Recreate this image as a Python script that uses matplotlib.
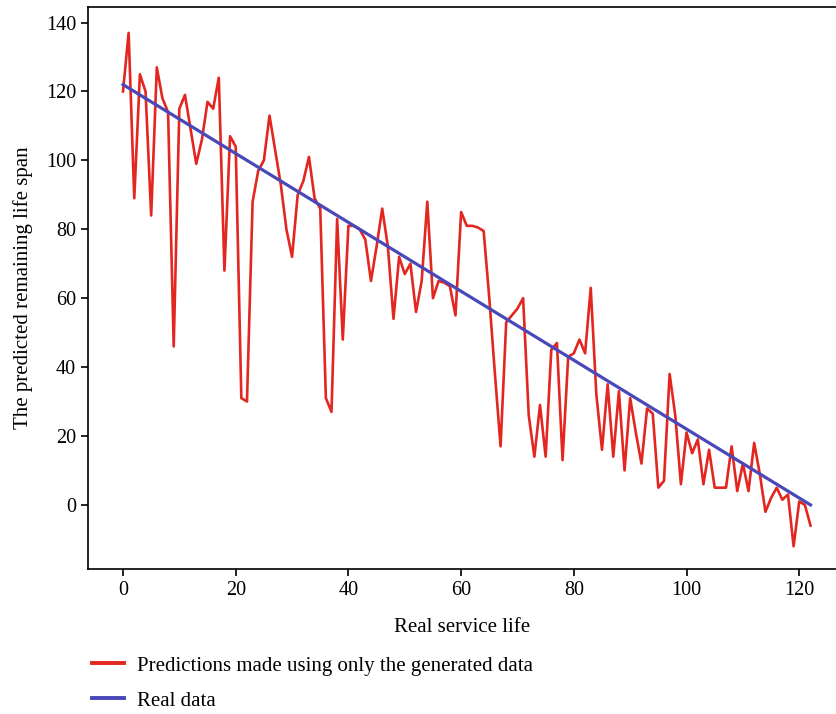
import matplotlib
matplotlib.use("Agg")
import matplotlib.pyplot as plt

plt.rcParams['font.family'] = ['Liberation Serif', 'DejaVu Serif']

# real service life (x) for each sample
service_life = list(range(123))

# predicted remaining life span (generated data only)
predicted = [
    120, 137, 89, 125, 120, 84, 127, 118, 114, 46,
    115, 119, 109, 99, 106, 117, 115, 124, 68, 107,
    104, 31, 30, 88, 97, 100, 113, 103, 93, 80,
    72, 90, 94, 101, 89, 86, 31, 27, 83, 48,
    81, 81, 80, 77, 65, 75, 86, 75, 54, 72,
    67, 70, 56, 65, 88, 60, 65, 64.5, 63.5, 55,
    85, 81, 81, 80.5, 79.5, 60, 38, 17, 53, 55,
    57, 60, 26, 14, 29, 14, 45, 47, 13, 43,
    44, 48, 44, 63, 32, 16, 35, 14, 33, 10,
    31, 21, 12, 28, 26.5, 5, 7, 38, 26, 6,
    21, 15, 19, 6, 16, 5, 5, 5, 17, 4,
    12, 4, 18, 9, -2, 2, 5, 1.5, 3, -12,
    1, 0, -6,
]

# real remaining life span
real = [
    122, 121, 120, 119, 118, 117, 116, 115, 114, 113,
    112, 111, 110, 109, 108, 107, 106, 105, 104, 103,
    102, 101, 100, 99, 98, 97, 96, 95, 94, 93,
    92, 91, 90, 89, 88, 87, 86, 85, 84, 83,
    82, 81, 80, 79, 78, 77, 76, 75, 74, 73,
    72, 71, 70, 69, 68, 67, 66, 65, 64, 63,
    62, 61, 60, 59, 58, 57, 56, 55, 54, 53,
    52, 51, 50, 49, 48, 47, 46, 45, 44, 43,
    42, 41, 40, 39, 38, 37, 36, 35, 34, 33,
    32, 31, 30, 29, 28, 27, 26, 25, 24, 23,
    22, 21, 20, 19, 18, 17, 16, 15, 14, 13,
    12, 11, 10, 9, 8, 7, 6, 5, 4, 3,
    2, 1, 0,
]

x_ticks = [0, 20, 40, 60, 80, 100, 120]
y_ticks = [0, 20, 40, 60, 80, 100, 120, 140]

fig = plt.figure(figsize=(8.37, 7.14), dpi=100)
ax = fig.add_axes([0.1052, 0.2031, 0.8948, 0.7875])

ax.plot(service_life, predicted, color='#e3261f', linewidth=1.9,
        label='Predictions made using only the generated data')
ax.plot(service_life, real, color='#4848b8', linewidth=2.3, label='Real data')

ax.set_xlim(-6.2, 126.7)
ax.set_ylim(-18.6, 144.6)
ax.set_xticks(x_ticks)
ax.set_yticks(y_ticks)
ax.tick_params(labelsize=14.5, length=5, width=1.2, direction='out')
ax.spines['right'].set_visible(False)
for s in ['left', 'top', 'bottom']:
    ax.spines[s].set_linewidth(1.2)

ax.set_xlabel('Real service life', fontsize=15, labelpad=13)
ax.set_ylabel('The predicted remaining life span', fontsize=15, labelpad=9)

leg = fig.legend(loc='upper left', bbox_to_anchor=(0.1, 0.093), frameon=False,
                 fontsize=15, handlelength=1.55, handletextpad=0.6,
                 labelspacing=0.75, borderaxespad=0)
for line in leg.get_lines():
    line.set_linewidth(2.8)

fig.savefig('out.png', dpi=100)
